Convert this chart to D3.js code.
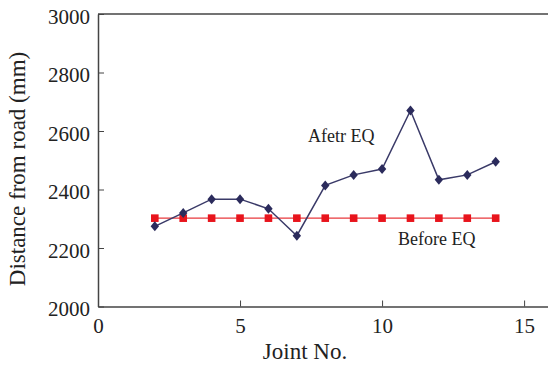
<!DOCTYPE html>
<html>
<head>
<meta charset="utf-8">
<title>Distance from road</title>
<style>
  body { margin: 0; background: #fff; }
  svg text { font-family: "Liberation Serif", "Times New Roman", serif; fill: #222; }
  .axis path, .axis line { stroke: #444; }
</style>
<script src="https://d3js.org/d3.v7.min.js"></script>
</head>
<body>
<svg id="chart" width="548" height="365"></svg>
<script>
// data
var joints = [2, 3, 4, 5, 6, 7, 8, 9, 10, 11, 12, 13, 14];
var afterEQ = [2274, 2320, 2367, 2367, 2334, 2242, 2414, 2450, 2470, 2670, 2433, 2450, 2495];
var beforeEQ = [2302, 2302, 2302, 2302, 2302, 2302, 2302, 2302, 2302, 2302, 2302, 2302, 2302];
var xTicks = [0, 5, 10, 15];
var yTicks = [2000, 2200, 2400, 2600, 2800, 3000];

var svg = d3.select("#chart"),
    margin = {top: 14, left: 98},
    width = 454.5,
    height = 292.5;

var x = d3.scaleLinear().domain([0, 16]).range([0, width]),
    y = d3.scaleLinear().domain([2000, 3000]).range([height, 0]);

var g = svg.append("g")
    .attr("transform", "translate(" + margin.left + "," + margin.top + ")");

// frame: top line (right side runs off the picture)
g.append("line")
    .attr("x1", 0).attr("x2", width)
    .attr("y1", 0).attr("y2", 0)
    .attr("stroke", "#444").attr("stroke-width", 1.5);

var xAxis = g.append("g")
    .attr("class", "axis")
    .attr("transform", "translate(0," + height + ")")
    .call(d3.axisBottom(x).tickValues(xTicks).tickFormat(d3.format("d"))
        .tickSizeInner(-6).tickSizeOuter(0).tickPadding(12));
xAxis.select(".domain").attr("stroke-width", 1.5);
xAxis.selectAll("text").style("font-size", "21px").attr("fill", "#222");

var yAxis = g.append("g")
    .attr("class", "axis")
    .call(d3.axisLeft(y).tickValues(yTicks).tickFormat(d3.format("d"))
        .tickSizeInner(-6).tickSizeOuter(0).tickPadding(8));
yAxis.select(".domain").attr("stroke-width", 1.5);
yAxis.selectAll("text").style("font-size", "21px").attr("fill", "#222").attr("dy", "0.45em");

// axis titles
svg.append("text")
    .attr("x", 305).attr("y", 359)
    .attr("text-anchor", "middle")
    .style("font-size", "23px")
    .text("Joint No.");

svg.append("text")
    .attr("transform", "translate(25,169) rotate(-90)")
    .attr("text-anchor", "middle")
    .style("font-size", "23px")
    .text("Distance from road (mm)");

var after = joints.map(function(d, i) { return {x: d, y: afterEQ[i]}; });
var before = joints.map(function(d, i) { return {x: d, y: beforeEQ[i]}; });

var line = d3.line()
    .x(function(d) { return x(d.x); })
    .y(function(d) { return y(d.y); });

// before EQ (red squares)
g.append("path")
    .datum(before)
    .attr("fill", "none")
    .attr("stroke", "#e8383c")
    .attr("stroke-width", 1.3)
    .attr("d", line);

g.selectAll(".sq")
    .data(before)
    .enter().append("rect")
    .attr("class", "sq")
    .attr("x", function(d) { return x(d.x) - 3.8; })
    .attr("y", function(d) { return y(d.y) - 3.8; })
    .attr("width", 7.6)
    .attr("height", 7.6)
    .attr("fill", "#e8141c");

// after EQ (navy diamonds)
g.append("path")
    .datum(after)
    .attr("fill", "none")
    .attr("stroke", "#3a3a68")
    .attr("stroke-width", 1.5)
    .attr("d", line);

g.selectAll(".dm")
    .data(after)
    .enter().append("path")
    .attr("class", "dm")
    .attr("transform", function(d) { return "translate(" + x(d.x) + "," + y(d.y) + ")"; })
    .attr("d", "M0,-5L4.2,0L0,5L-4.2,0Z")
    .attr("fill", "#2b2b5c");

// series labels
svg.append("text")
    .attr("x", 308).attr("y", 142)
    .style("font-size", "18px")
    .text("Afetr EQ");

svg.append("text")
    .attr("x", 398).attr("y", 245)
    .style("font-size", "18px")
    .text("Before EQ");
</script>
</body>
</html>
